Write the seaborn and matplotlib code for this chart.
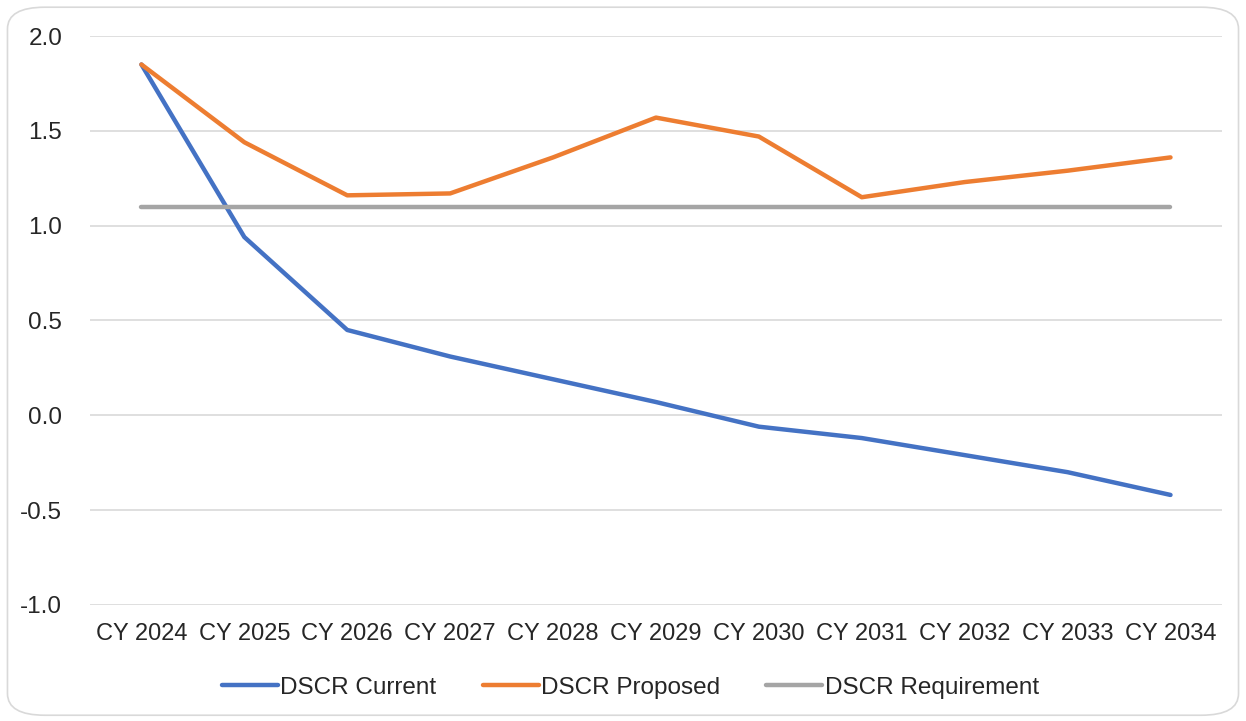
import pandas as pd
import matplotlib
matplotlib.use("Agg")
import matplotlib.pyplot as plt
from matplotlib.patches import FancyBboxPatch
import seaborn as sns

# Chart data
years = ["CY 2024", "CY 2025", "CY 2026", "CY 2027", "CY 2028", "CY 2029",
         "CY 2030", "CY 2031", "CY 2032", "CY 2033", "CY 2034"]
dscr_current = [1.85, 0.94, 0.45, 0.31, 0.19, 0.07, -0.06, -0.12, -0.21, -0.30, -0.42]
dscr_proposed = [1.85, 1.44, 1.16, 1.17, 1.36, 1.57, 1.47, 1.15, 1.23, 1.29, 1.36]
dscr_requirement = [1.10] * len(years)
y_ticks = [-1.0, -0.5, 0.0, 0.5, 1.0, 1.5, 2.0]

series_names = ["DSCR Current", "DSCR Proposed", "DSCR Requirement"]
colors = ["#4472C4", "#ED7D31", "#A5A5A5"]

df = pd.DataFrame({
    "year": years * 3,
    "value": dscr_current + dscr_proposed + dscr_requirement,
    "series": [s for s in series_names for _ in years],
})

sns.set_theme(style="white")
plt.rcParams["font.family"] = ["Liberation Sans", "DejaVu Sans"]

fig = plt.figure(figsize=(12.46, 7.21), dpi=100)
ax = fig.add_axes([0.0722, 0.161, 0.9085, 0.789])

# rounded light border around the whole chart
border = FancyBboxPatch((0.006, 0.008), 0.988, 0.982,
                        boxstyle="round,pad=0,rounding_size=0.03",
                        transform=fig.transFigure, facecolor="none",
                        edgecolor="#D9D9D9", linewidth=1.2, zorder=-1)
fig.patches.append(border)

sns.lineplot(data=df, x="year", y="value", hue="series", palette=colors,
             linewidth=3.2, ax=ax, sort=False, legend=True,
             solid_capstyle="round")

ax.set_xlim(-0.5, len(years) - 0.5)
ax.set_ylim(-1.0, 2.0)
ax.set_yticks(y_ticks)
ax.set_yticklabels([f"{t:.1f}" for t in y_ticks])
ax.yaxis.grid(True, color="#D9D9D9", linewidth=1.2)
ax.xaxis.grid(False)
for s in ax.spines.values():
    s.set_visible(False)
ax.tick_params(axis="both", length=0, colors="#262626")
ax.tick_params(axis="y", labelsize=17.5, pad=20)
ax.tick_params(axis="x", labelsize=17, pad=13)
ax.set_xlabel("")
ax.set_ylabel("")

handles, labels = ax.get_legend_handles_labels()
ax.legend_.remove()
fig.legend(handles, labels, loc="center", bbox_to_anchor=(0.506, 0.046),
           ncol=3, frameon=False, fontsize=17.5, handlelength=2.3,
           handletextpad=0.1, columnspacing=1.9, labelcolor="#262626")

fig.savefig("out.png", dpi=100)
